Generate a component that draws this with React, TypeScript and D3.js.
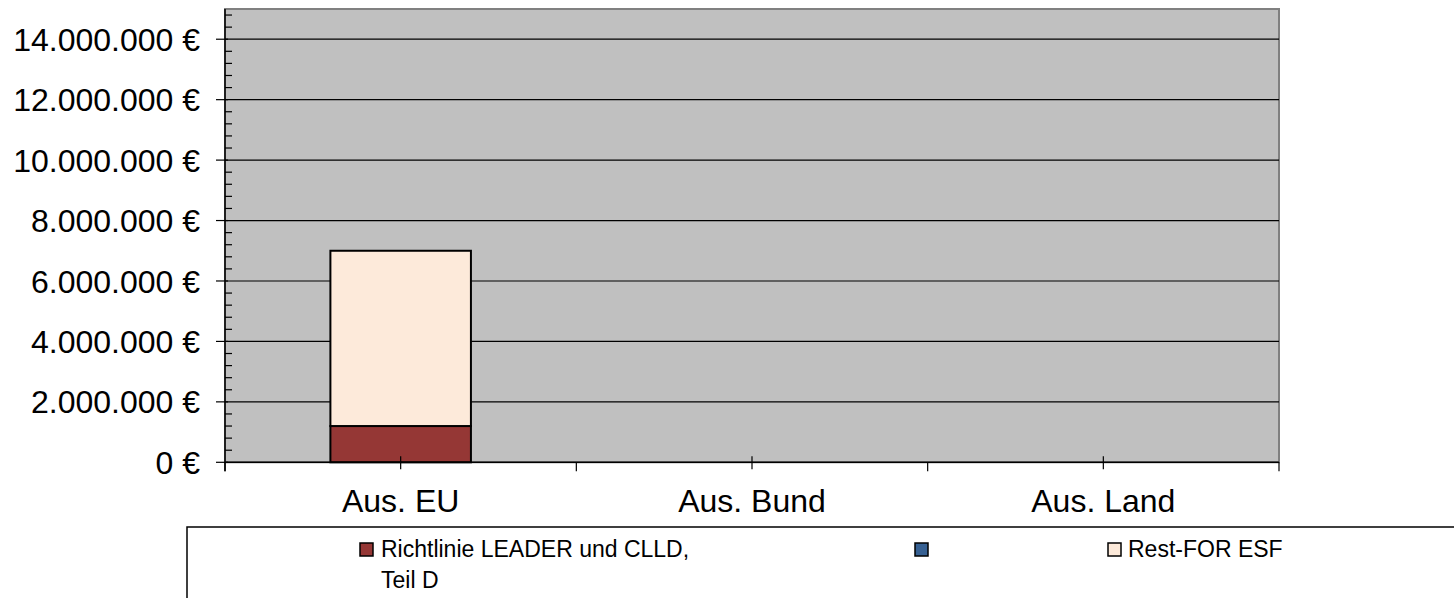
import React from "react";
import * as d3 from "d3";

const categories = ["Aus. EU", "Aus. Bund", "Aus. Land"];
const seriesNames = ["Richtlinie LEADER und CLLD, Teil D", "", "Rest-FOR ESF"];
const seriesLeader = [1200000, 0, 0];
const seriesBlue = [0, 0, 0];
const seriesRest = [5800000, 0, 0];
const seriesColors = ["#953735", "#366092", "#FDEADA"];
const yTicks = [0, 2000000, 4000000, 6000000, 8000000, 10000000, 12000000, 14000000];

const W = 1454;
const H = 598;
const left = 225;
const right = 1279;
const top = 9;
const bottom = 462.3;

function fmt(v: number) {
  return d3.format(",")(v).replace(/,/g, ".") + " €";
}

export default function App() {
  const x = d3.scaleBand<string>().domain(categories).range([left, right]).padding(0);
  const y = d3.scaleLinear().domain([0, 15000000]).range([bottom, top]);
  const rows = categories.map((c, i) => ({
    cat: c,
    s0: seriesLeader[i],
    s1: seriesBlue[i],
    s2: seriesRest[i],
  }));
  const stack = d3.stack<any>().keys(["s0", "s1", "s2"]);
  const stacked = stack(rows);
  const bw = x.bandwidth() * 0.4;
  const minor = d3.range(0, 15000001, 400000).filter((v) => v % 2000000 !== 0);
  const font = "Liberation Sans, Arial, sans-serif";

  return (
    <svg width={W} height={H} style={{ position: "absolute", left: 0, top: 0 }} fontFamily={font}>
      <rect x={left} y={top} width={right - left} height={bottom - top} fill="#C0C0C0" stroke="#808080" strokeWidth={2} />
      {yTicks.filter((t) => t > 0).map((t) => (
        <line key={t} x1={left} x2={right} y1={y(t)} y2={y(t)} stroke="#000" strokeWidth={1.2} />
      ))}
      {stacked.map((s, si) =>
        s.map((d, i) => {
          const h = y(d[0]) - y(d[1]);
          if (h <= 0) return null;
          const cx = (x(categories[i]) as number) + x.bandwidth() / 2;
          return (
            <rect key={si + "-" + i} x={cx - bw / 2} y={y(d[1])} width={bw} height={h}
              fill={seriesColors[si]} stroke="#000" strokeWidth={2} />
          );
        })
      )}
      {/* y axis */}
      <line x1={left} x2={left} y1={top} y2={bottom + 9} stroke="#000" strokeWidth={1.5} />
      {minor.map((t) => (
        <line key={"m" + t} x1={left} x2={left + 7} y1={y(t)} y2={y(t)} stroke="#000" strokeWidth={1.2} />
      ))}
      {yTicks.map((t) => (
        <g key={"t" + t}>
          <line x1={left - 9} x2={left + 3} y1={y(t)} y2={y(t)} stroke="#000" strokeWidth={1.2} />
          <text x={200} y={y(t)} dy="0.36em" textAnchor="end" fontSize={32} fill="#000">{fmt(t)}</text>
        </g>
      ))}
      {/* x axis */}
      <line x1={left} x2={right} y1={bottom} y2={bottom} stroke="#000" strokeWidth={1.5} />
      {[...categories.map((c) => x(c) as number), right].map((v, i) => (
        <line key={"b" + i} x1={v} x2={v} y1={bottom} y2={bottom + 9} stroke="#000" strokeWidth={1.2} />
      ))}
      {categories.map((c) => {
        const cx = (x(c) as number) + x.bandwidth() / 2;
        return (
          <g key={c}>
            <line x1={cx} x2={cx} y1={bottom - 6} y2={bottom + 7} stroke="#000" strokeWidth={1.2} />
            <text x={cx} y={512} textAnchor="middle" fontSize={32} fill="#000">{c}</text>
          </g>
        );
      })}
      {/* legend */}
      <path d={`M187,${H + 2} V527 H${W + 2}`} fill="none" stroke="#000" strokeWidth={1.5} />
      <rect x={360} y={543} width={13} height={13} fill={seriesColors[0]} stroke="#000" strokeWidth={1.5} />
      <text x={381} y={557} fontSize={23} fill="#000">Richtlinie LEADER und CLLD,</text>
      <text x={381} y={588} fontSize={23} fill="#000">Teil D</text>
      <rect x={915} y={543} width={13} height={13} fill={seriesColors[1]} stroke="#000" strokeWidth={1.5} />
      <text x={936} y={557} fontSize={23} fill="#000">{seriesNames[1]}</text>
      <rect x={1108} y={543} width={13} height={13} fill={seriesColors[2]} stroke="#000" strokeWidth={1.5} />
      <text x={1128} y={557} fontSize={23} fill="#000">{seriesNames[2]}</text>
    </svg>
  );
}
